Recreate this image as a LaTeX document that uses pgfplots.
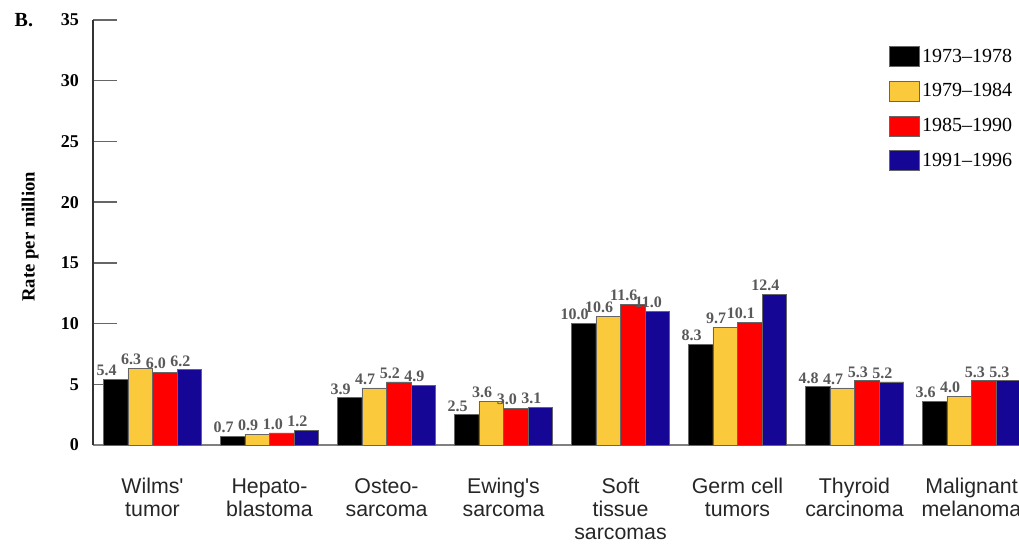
\documentclass[border=0pt]{standalone}
\usepackage{fontspec}
\setmainfont{Liberation Serif}
\setsansfont{Liberation Sans}
\usepackage{pgfplots}
\pgfplotsset{compat=1.18}

\definecolor{p1}{RGB}{0,0,0}
\definecolor{p2}{RGB}{250,202,60}
\definecolor{p3}{RGB}{255,0,0}
\definecolor{p4}{RGB}{22,6,150}

\begin{document}
\begin{tikzpicture}
\path[use as bounding box] (0,0) rectangle (764.25pt,408pt);
\clip (0,0) rectangle (764.25pt,408pt);
\begin{axis}[
    at={(69.75pt,74.25pt)}, anchor=south west,
    scale only axis,
    width=694.5pt, height=318.75pt,
    xmin=-0.5085, xmax=7.406,
    ymin=0, ymax=35,
    axis x line*=bottom, axis y line*=left,
    x axis line style={black!50, line width=1.1pt},
    y axis line style={black!80, line width=1pt},
    ytick={0,5,...,35},
    ytick style={black!60, line width=1.1pt},
    major tick length=18pt,
    tick align=inside,
    /pgf/number format/assume math mode=true,
    yticklabel style={font=\bfseries\fontsize{13.5}{13.5}\selectfont, xshift=-7pt},
    xtick=data,
    xtick style={draw=none},
    xticklabels={{Wilms\textquotesingle\\tumor},{Hepato-\\blastoma},{Osteo-\\sarcoma},{Ewing\textquotesingle s\\sarcoma},{Soft\\tissue\\sarcomas},{Germ cell\\tumors},{Thyroid\\carcinoma},{Malignant\\melanoma}},
    xticklabel style={font=\sffamily\fontsize{16}{17.25}\selectfont, align=center, text=black!85, yshift=-3.5pt},
    ylabel={Rate per million},
    ylabel style={font=\bfseries\fontsize{14}{14}\selectfont, at={(axis description cs:-0.068,0.49)}, anchor=center},
    ybar=0pt,
    bar width=0.21,
    nodes near coords={\pgfmathprintnumber[fixed,fixed zerofill,precision=1]{\pgfplotspointmeta}},
    every node near coord/.append style={font=\bfseries\fontsize{12}{12}\selectfont, text=black!65, xshift=-6.75pt, yshift=-1pt},
    legend style={at={(rel axis cs:0.855,0.945)}, anchor=north west, draw=none, fill=none,
        font=\fontsize{15}{15}\selectfont, row sep=10.5pt,
        /tikz/every even column/.append style={column sep=3pt}},
    legend image code/.code={\draw[#1,draw=black!60] (0pt,-7.5pt) rectangle (22.5pt,7.5pt);},
    legend cell align=left,
]
\addplot[fill=p1, draw=black!60] coordinates {(0,5.4) (1,0.7) (2,3.9) (3,2.5) (4,10.0) (5,8.3) (6,4.8) (7,3.6)};
\addplot[fill=p2, draw=black!60] coordinates {(0,6.3) (1,0.9) (2,4.7) (3,3.6) (4,10.6) (5,9.7) (6,4.7) (7,4.0)};
\addplot[fill=p3, draw=black!60] coordinates {(0,6.0) (1,1.0) (2,5.2) (3,3.0) (4,11.6) (5,10.1) (6,5.3) (7,5.3)};
\addplot[fill=p4, draw=black!60] coordinates {(0,6.2) (1,1.2) (2,4.9) (3,3.1) (4,11.0) (5,12.4) (6,5.2) (7,5.3)};
\legend{1973--1978,1979--1984,1985--1990,1991--1996}
\end{axis}
\node[font=\bfseries\fontsize{15}{15}\selectfont, anchor=base west] at (7.5pt,387.75pt) {B.};
\end{tikzpicture}
\end{document}
